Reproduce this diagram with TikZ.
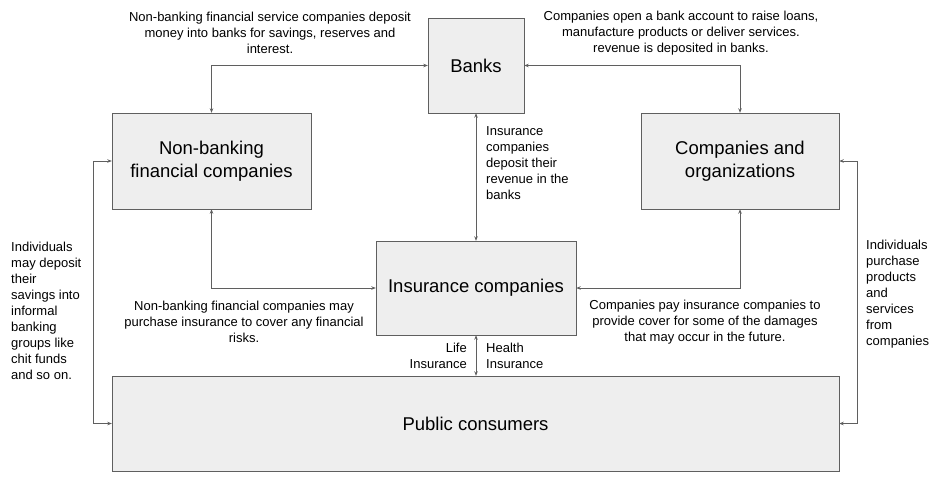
\documentclass[tikz,border=0pt]{standalone}
\usepackage{fontspec}
\setmainfont{Liberation Sans}
\usetikzlibrary{positioning,arrows.meta}

\definecolor{boxfill}{HTML}{EEEEEE}
\definecolor{linegray}{HTML}{5F5F5F}

\tikzset{
  box/.style={draw=linegray, fill=boxfill, inner sep=0pt, align=center,
    font=\fontsize{18.5}{23}\selectfont},
  link/.style={draw=linegray, line width=0.8pt,
    {Stealth[length=4.5pt,width=3.5pt]}-{Stealth[length=4.5pt,width=3.5pt]}},
  note/.style={inner sep=0pt, font=\fontsize{13}{16}\selectfont},
}

\begin{document}
\begin{tikzpicture}[x=1pt, y=-1pt]
\useasboundingbox (0,0) rectangle (944,482);

\def\xl{211.5}
\def\xm{476}
\def\xr{740}

\def\ya{65.5}
\def\yb{161}
\def\yc{288}
\def\yd{423.5}

% boxes
\node[box, minimum width=96pt, minimum height=95pt] (banks) at (\xm, \ya) {Banks};
\node[box, minimum width=199pt, minimum height=96pt] (nbfc) at (\xl, \yb) {Non-banking\\financial companies};
\node[box, minimum width=198pt, minimum height=96pt] (comp) at (\xr, \yb) {Companies and\\organizations};
\node[box, minimum width=200pt, minimum height=94pt] (ins) at (\xm, \yc) {Insurance companies};
\node[box, minimum width=727pt, minimum height=95pt] (pub) at (475.5, \yd) {Public consumers};

% connectors
\draw[link] (nbfc.north) |- (banks.west);
\draw[link] (banks.east) -| (comp.north);
\draw[link] (banks.south) -- (ins.north);
\draw[link] (nbfc.south) |- (ins.west);
\draw[link] (comp.south) |- (ins.east);
\draw[link] (ins.south) -- (ins.south |- pub.north);
\draw[link] (nbfc.west) -- ++(-18,0) |- (pub.west);
\draw[link] (comp.east) -- ++(18,0) |- (pub.east);

% notes
\node[note, align=center] (n1) at (270, 33) {Non-banking financial service companies deposit\\money into banks for savings, reserves and\\interest.};
\node[note, align=center] (n2) at (681, 33) {Companies open a bank account to raise loans,\\manufacture products or deliver services.\\revenue is deposited in banks.};
\node[note, align=left, anchor=west] (n3) at (486, 163) {Insurance\\companies\\deposit their\\revenue in the\\banks};
\node[note, align=center] (n4) at (244, 322) {Non-banking financial companies may\\purchase insurance to cover any financial\\risks.};
\node[note, align=center] (n5) at (705, 322) {Companies pay insurance companies to\\provide cover for some of the damages\\that may occur in the future.};
\node[note, align=right, anchor=east] (n6) at (467, 356) {Life\\Insurance};
\node[note, align=left, anchor=west] (n7) at (486, 356) {Health\\Insurance};
\node[note, align=left, anchor=west] (n8) at (11, 310.5) {Individuals\\may deposit\\their\\savings into\\informal\\banking\\groups like\\chit funds\\and so on.};
\node[note, align=left, anchor=west] (n9) at (866, 294) {Individuals\\purchase\\products\\and\\services\\from\\companies};
\end{tikzpicture}
\end{document}
